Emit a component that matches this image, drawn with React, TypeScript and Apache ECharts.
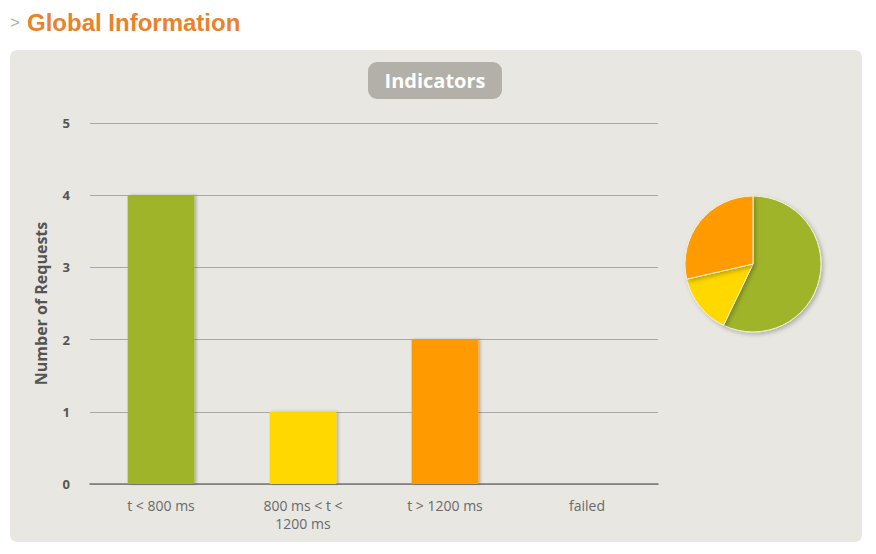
import React, { useEffect, useRef } from "react";
import * as echarts from "echarts";

const categories = ["t < 800 ms", "800 ms < t < 1200 ms", "t > 1200 ms", "failed"];
const requestCounts = [4, 1, 2, 0];
const colors = ["#a0b42a", "#ffd800", "#ff9a00", "#f15b4f"];
const yTicks = [0, 1, 2, 3, 4, 5];

export default function App() {
  const ref = useRef<HTMLDivElement>(null);
  useEffect(() => {
    if (!ref.current) return;
    const chart = echarts.init(ref.current, null, { renderer: "svg" });
    const font = "'Open Sans', 'Noto Sans', sans-serif";
    chart.setOption({
      animation: false,
      backgroundColor: "#ffffff",
      textStyle: { fontFamily: font },
      graphic: [
        {
          type: "rect",
          z: -10,
          shape: { x: 10, y: 50, width: 852, height: 492, r: 7 },
          style: { fill: "#e8e7e2" },
        },
        {
          type: "text",
          x: 10,
          y: 22,
          style: {
            text: ">",
            fill: "#b0b0b0",
            font: "17px 'Liberation Sans', Arial, sans-serif",
            verticalAlign: "middle",
          },
        },
        {
          type: "text",
          x: 27,
          y: 22,
          style: {
            text: "Global Information",
            fill: "#e8832b",
            font: "bold 24px 'Liberation Sans', Arial, sans-serif",
            verticalAlign: "middle",
          },
        },
        {
          type: "rect",
          z: 5,
          shape: { x: 368, y: 62, width: 134, height: 37, r: 9 },
          style: { fill: "#b2b0a8" },
        },
        {
          type: "text",
          z: 6,
          x: 435,
          y: 80,
          style: {
            text: "Indicators",
            fill: "#ffffff",
            font: "bold 20px " + font,
            align: "center",
            verticalAlign: "middle",
          },
        },
      ],
      grid: { left: 90, right: 876 - 658, top: 123, bottom: 554 - 484 },
      xAxis: {
        type: "category",
        data: categories,
        axisLine: { lineStyle: { color: "#777", width: 1.5 } },
        axisTick: { length: 10, lineStyle: { color: "#777", width: 1.5 } },
        axisLabel: {
          color: "#6a6a6a",
          fontSize: 14,
          margin: 12,
          interval: 0,
          width: 100,
          overflow: "break",
          lineHeight: 18,
          formatter: (v: string) => (v === "800 ms < t < 1200 ms" ? "800 ms < t <\n1200 ms" : v),
        },
      },
      yAxis: {
        type: "value",
        min: yTicks[0],
        max: yTicks[yTicks.length - 1],
        interval: 1,
        name: "Number of Requests",
        nameLocation: "middle",
        nameRotate: 90,
        nameGap: 41,
        nameTextStyle: { color: "#555", fontSize: 16, fontWeight: "bold" },
        axisLine: { show: false },
        axisTick: { show: false },
        axisLabel: { color: "#555", fontSize: 13, fontWeight: "bold", margin: 20 },
        splitLine: { lineStyle: { color: "#a8a8a4", width: 1.2 } },
      },
      series: [
        {
          type: "bar",
          data: requestCounts.map((v, i) => ({ value: v, itemStyle: { color: colors[i] } })),
          barWidth: "47%",
          itemStyle: {
            shadowColor: "rgba(0,0,0,0.25)",
            shadowOffsetX: 2,
            shadowOffsetY: 0,
            shadowBlur: 3,
          },
        },
        {
          type: "pie",
          center: [753, 264],
          radius: 68,
          startAngle: 90,
          clockwise: true,
          label: { show: false },
          labelLine: { show: false },
          emphasis: { disabled: true },
          itemStyle: {
            borderColor: "#f4f0d8",
            borderWidth: 1,
            shadowColor: "rgba(0,0,0,0.25)",
            shadowOffsetX: 2,
            shadowOffsetY: 2,
            shadowBlur: 4,
          },
          data: requestCounts
            .map((v, i) => ({ name: categories[i], value: v, itemStyle: { color: colors[i] } }))
            .filter((d) => d.value > 0),
        },
      ],
    });
    return () => chart.dispose();
  }, []);
  return (
    <div
      ref={ref}
      style={{ position: "fixed", left: 0, top: 0, width: 876, height: 554 }}
    />
  );
}
